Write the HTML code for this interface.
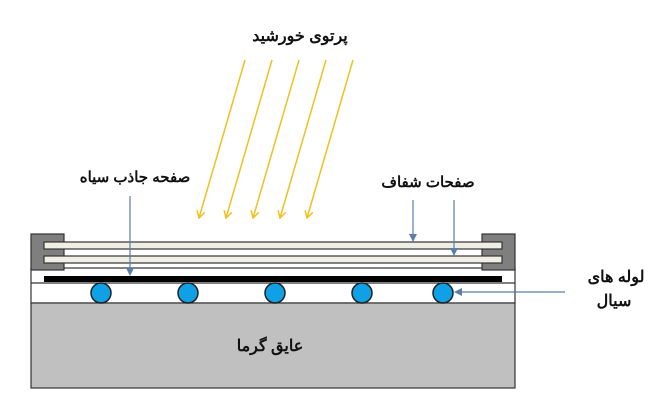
<!DOCTYPE html>
<html><head><meta charset="utf-8"><style>
body{margin:0;background:#fff;}
text{font-family:"Liberation Sans","Noto Sans CJK SC",sans-serif;font-weight:bold;fill:#111;}
</style></head><body>
<svg width="662" height="404" viewBox="0 0 662 404" xmlns="http://www.w3.org/2000/svg">
<defs>
<marker id="ay" markerWidth="10" markerHeight="10" refX="9" refY="5" orient="auto" markerUnits="userSpaceOnUse" viewBox="0 0 10 10"><path d="M2,1 L9,5 L2,9" fill="none" stroke="#f0c020" stroke-width="1.5"/></marker>
<marker id="ab" markerWidth="8" markerHeight="8" refX="7" refY="4" orient="auto" markerUnits="userSpaceOnUse" viewBox="0 0 8 8"><path d="M0,0 L8,4 L0,8 z" fill="#5a7fa8"/></marker>
</defs>
<text x="300" y="41" font-size="16" text-anchor="middle">پرتوی خورشید</text>
<g stroke="#f0c020" stroke-width="1.5" marker-end="url(#ay)">
<line x1="245" y1="60" x2="199" y2="218"/>
<line x1="272" y1="60" x2="226" y2="218"/>
<line x1="299" y1="60" x2="253" y2="218"/>
<line x1="326" y1="60" x2="280" y2="218"/>
<line x1="353" y1="60" x2="307" y2="218"/>
</g>
<rect x="31" y="268" width="484" height="35" fill="#fff" stroke="#333" stroke-width="1.2"/>
<line x1="31" y1="283" x2="515" y2="283" stroke="#333" stroke-width="1.2"/>
<rect x="31" y="234" width="33" height="36" fill="#7f7f7f" stroke="#333" stroke-width="1.2"/>
<rect x="482" y="234" width="33" height="36" fill="#7f7f7f" stroke="#333" stroke-width="1.2"/>
<rect x="44" y="242" width="458" height="7" fill="#efefe6" stroke="#333" stroke-width="1.2"/>
<rect x="44" y="256" width="458" height="7" fill="#efefe6" stroke="#333" stroke-width="1.2"/>
<rect x="44" y="276" width="458" height="6" fill="#000"/>
<rect x="31" y="303" width="484" height="85" fill="#c0c0c0" stroke="#333" stroke-width="1.2"/>
<g fill="#10a0e6" stroke="#222" stroke-width="1.5">
<circle cx="101" cy="293" r="10"/><circle cx="188" cy="293" r="10"/><circle cx="275" cy="293" r="10"/><circle cx="362" cy="293" r="10"/><circle cx="443" cy="293" r="10"/>
</g>
<text x="270" y="351" font-size="16" text-anchor="middle">عایق گرما</text>
<text x="135" y="182" font-size="15" text-anchor="middle">صفحه جاذب سیاه</text>
<text x="428" y="187" font-size="15" text-anchor="middle">صفحات شفاف</text>
<text x="616" y="282" font-size="16" text-anchor="middle">لوله های</text>
<text x="614" y="306" font-size="16" text-anchor="middle">سیال</text>
<g stroke="#5a7fa8" stroke-width="1.2" marker-end="url(#ab)">
<line x1="130" y1="196" x2="130" y2="275"/>
<line x1="413" y1="200" x2="413" y2="241"/>
<line x1="454" y1="200" x2="454" y2="255"/>
<line x1="565" y1="292" x2="455" y2="292"/>
</g>
</svg>
</body></html>
